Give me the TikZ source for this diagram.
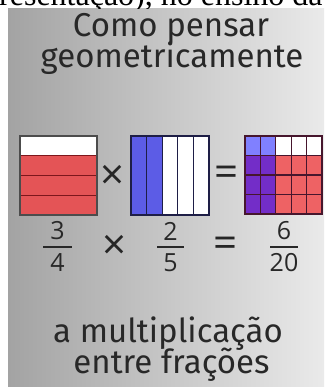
\documentclass[tikz,border=0pt]{standalone}
\usepackage{fontspec}
\setmainfont{Liberation Serif}
\newfontfamily\techfont{Fira Sans}
\newfontfamily\numfont{Open Sans}
\usetikzlibrary{positioning}
\definecolor{bgdark}{RGB}{163,163,163}
\definecolor{bglight}{RGB}{234,234,234}
\definecolor{inkgray}{RGB}{40,40,40}
\definecolor{fracred}{RGB}{228,84,86}
\definecolor{fracredline}{RGB}{125,22,28}
\definecolor{fracblue}{RGB}{92,92,230}
\definecolor{fracblueline}{RGB}{30,30,70}
\definecolor{lightblue}{RGB}{128,128,255}
\definecolor{fracpurple}{RGB}{115,45,200}
\definecolor{prodred}{RGB}{238,98,100}
\definecolor{gridline}{RGB}{70,22,45}
\tikzstyle{heading} = [font=\techfont\fontsize{33}{33}\selectfont, text=inkgray, anchor=base, inner sep=0pt]
\tikzstyle{digit} = [font=\numfont\fontsize{25}{25}\selectfont, text=inkgray, inner sep=0pt]
\tikzstyle{operator} = [font=\numfont\fontsize{42}{42}\selectfont, text=black!85, inner sep=0pt]
\tikzstyle{fracbar} = [line width=1.8pt, inkgray]
\tikzstyle{redline} = [line width=1.2pt, fracredline]
\tikzstyle{blueline} = [line width=1.2pt, fracblueline]
\tikzstyle{cellline} = [line width=1.2pt, gridline]

\begin{document}
\begin{tikzpicture}[x=1pt, y=-1pt]
\useasboundingbox (0,0) rectangle (324,387);

% Background
\fill[white] (0,0) rectangle (324,387);
\shade[left color=bgdark, right color=bglight] (8,9) rectangle (324,387);

% Cut-off line of the page above
\begin{scope}
    \clip (0,0) rectangle (324,9);
    \node[anchor=base west, inner sep=0pt, font=\fontsize{32}{32}\selectfont] (pageline) at (-1,6) {resentação), no ensino da};
\end{scope}

% Title
\node[heading] (titletop) at (171,37) {Como pensar};
\node[heading] (titlebottom) at (172,68) {geometricamente};

% Left bar: 3/4
\fill[white] (20,136) rectangle (97,155.75);
\fill[fracred] (20,155.75) rectangle (97,215);
\draw[redline] (20,155.75) -- (97,155.75);
\foreach \k in {2,3}
    \draw[redline] (20,{136+19.75*\k}) -- (97,{136+19.75*\k});
\draw[line width=1.2pt, black!70] (20,136) rectangle (97,215);

% Middle bar: 2/5
\fill[white] (131,136) rectangle (209,215);
\fill[fracblue] (131,136) rectangle (162.2,215);
\foreach \k in {1,...,4}
    \draw[blueline] ({131+15.6*\k},136) -- ({131+15.6*\k},215);
\draw[blueline] (131,136) rectangle (209,215);

% Right bar: 6/20
\fill[lightblue] (245,136) rectangle (275.8,155.5);
\fill[white] (275.8,136) rectangle (322,155.5);
\fill[fracpurple] (245,155.5) rectangle (275.8,214);
\fill[prodred] (275.8,155.5) rectangle (322,214);
\foreach \k in {1,...,4}
    \draw[cellline] ({245+15.4*\k},136) -- ({245+15.4*\k},214);
\foreach \k in {1,2,3}
    \draw[cellline] (245,{136+19.5*\k}) -- (322,{136+19.5*\k});
\draw[cellline] (245,136) rectangle (322,214);

% Operators between the bars
\node[operator] (timesbar) at (113,177) {×};
\node[operator] (equalsbar) at (227,176) {=};

% Fractions
\node[digit] (numa) at (57.5,231) {3};
\node[digit] (dena) at (57.5,263) {4};
\draw[fracbar] (43,247) -- (72,247);
\node[digit] (numb) at (170.5,231) {2};
\node[digit] (denb) at (170.5,263) {5};
\draw[fracbar] (157,247) -- (184,247);
\node[digit] (numc) at (284,231) {6};
\node[digit] (denc) at (284,263) {20};
\draw[fracbar] (270,247) -- (298,247);
\node[operator] (timesfrac) at (115,247) {×};
\node[operator] (equalsfrac) at (225.5,247) {=};

% Closing text
\node[heading] (closingtop) at (168,342) {a multiplicação};
\node[heading] (closingbottom) at (171.5,373) {entre frações};

\end{tikzpicture}
\end{document}
